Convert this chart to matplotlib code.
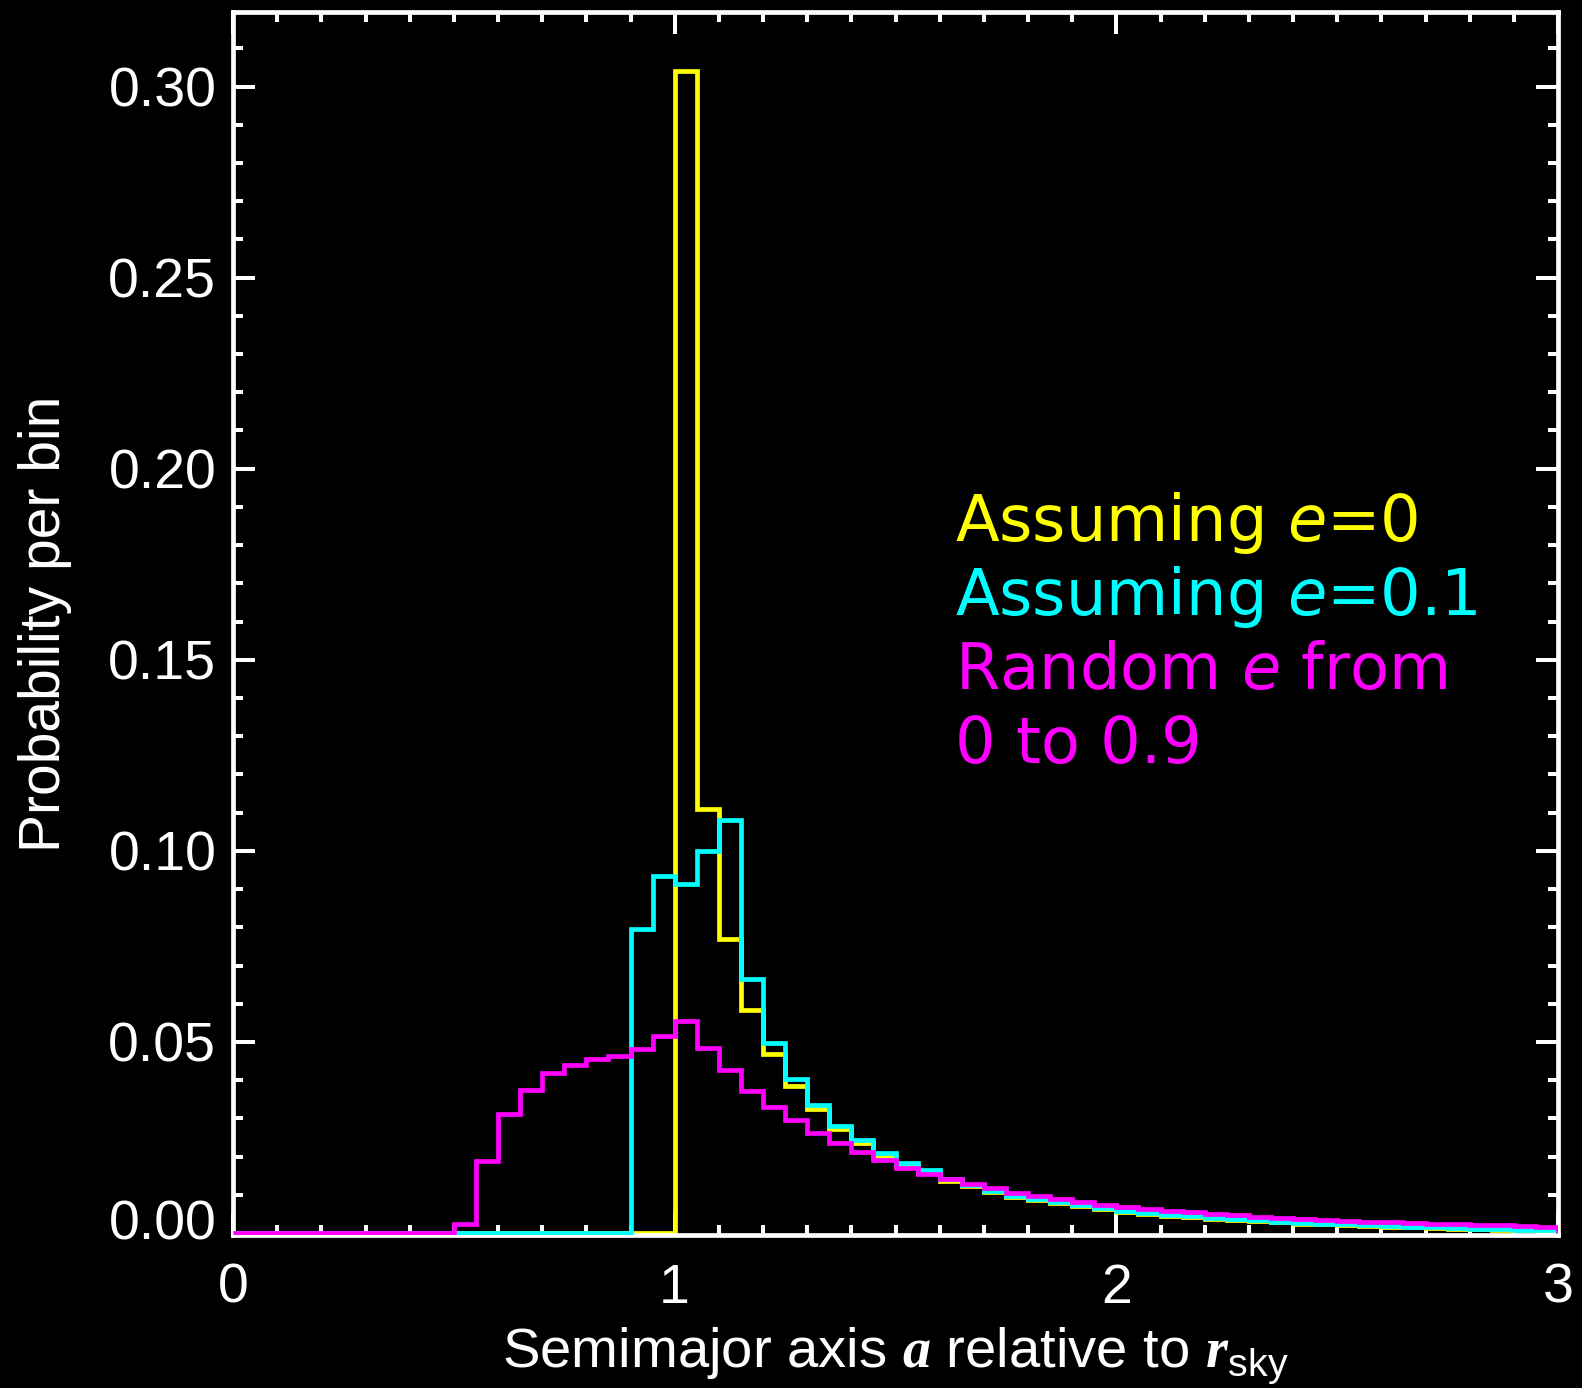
import numpy as np
import matplotlib
matplotlib.use("Agg")
import matplotlib.pyplot as plt
from matplotlib.ticker import MultipleLocator, FixedLocator, FixedFormatter
from matplotlib.transforms import ScaledTranslation

# ---- data: probability per bin, bins of width 0.05 from 0 to 3 ----
bin_edges = np.round(np.arange(0, 3.0001, 0.05), 4)

# e = 0 (yellow): zero below a = 1.0
yellow_vals = [0.0] * 20 + [
    0.304, 0.111, 0.077, 0.0584, 0.0469, 0.0385, 0.0324, 0.0272, 0.0235, 0.0200,
    0.0176, 0.0158, 0.0137, 0.0122, 0.0107, 0.0095, 0.0087, 0.0079, 0.0071, 0.0064,
    0.0056, 0.0051, 0.0046, 0.0042, 0.0038, 0.0034, 0.0031, 0.0028, 0.0025, 0.0023,
    0.0021, 0.0019, 0.0017, 0.0015, 0.0013, 0.0012, 0.0010, 0.0009, 0.0008, 0.0007,
]

# e = 0.1 (cyan): zero below a = 0.9
cyan_vals = [0.0] * 18 + [
    0.0796, 0.0935,
    0.0914, 0.1000, 0.1081, 0.0665, 0.0497, 0.0403, 0.0335, 0.0280, 0.0243, 0.0210,
    0.0183, 0.0165, 0.0141, 0.0125, 0.0109, 0.0097, 0.0089, 0.0081, 0.0073, 0.0065,
    0.0058, 0.0053, 0.0048, 0.0044, 0.0040, 0.0036, 0.0033, 0.0030, 0.0027, 0.0025,
    0.0023, 0.0021, 0.0019, 0.0017, 0.0015, 0.0014, 0.0012, 0.0011, 0.0009, 0.0008,
]

# random e from 0 to 0.9 (magenta): zero below a = 0.5
magenta_vals = [0.0] * 10 + [
    0.0025, 0.0188, 0.0311, 0.0374, 0.0419, 0.0440, 0.0455, 0.0463, 0.0482, 0.0516,
    0.0555, 0.0484, 0.0427, 0.0373, 0.0330, 0.0296, 0.0262, 0.0235, 0.0212, 0.0190,
    0.0170, 0.0155, 0.0141, 0.0128, 0.0117, 0.0105, 0.0097, 0.0089, 0.0081, 0.0074,
    0.0069, 0.0064, 0.0059, 0.0055, 0.0051, 0.0047, 0.0043, 0.0040, 0.0037, 0.0034,
    0.0032, 0.0030, 0.0028, 0.0026, 0.0025, 0.0023, 0.0022, 0.0020, 0.0019, 0.0017,
]

x_major_ticks = [0, 1, 2, 3]
x_tick_labels = ["0", "1", "2", "3"]
y_major_ticks = [0.00, 0.05, 0.10, 0.15, 0.20, 0.25, 0.30]
y_tick_labels = ["0.00", "0.05", "0.10", "0.15", "0.20", "0.25", "0.30"]

legend_lines = [
    ("Assuming $e$=0", "#ffff00"),
    ("Assuming $e$=0.1", "#00ffff"),
    ("Random $e$ from", "#ff00ff"),
    ("0 to 0.9", "#ff00ff"),
]

# ---- style ----
plt.rcParams["mathtext.fontset"] = "custom"
plt.rcParams["mathtext.it"] = "DejaVu Sans:italic"
plt.rcParams["mathtext.bf"] = "Liberation Serif:italic:bold"
plt.rcParams["mathtext.rm"] = "Liberation Sans"

W, H = 1582, 1388
fig = plt.figure(figsize=(W / 100, H / 100), dpi=100, facecolor="black")
ax = fig.add_axes([233 / W, 1 - 1235 / H, (1558 - 233) / W, (1235 - 12) / H])
ax.set_facecolor("black")

ax.stairs(yellow_vals, bin_edges, color="#ffff00", lw=3.4, zorder=2)
ax.stairs(cyan_vals, bin_edges, color="#00ffff", lw=3.4, zorder=3)
ax.stairs(magenta_vals, bin_edges, color="#ff00ff", lw=3.4, zorder=4)

ax.set_xlim(0, 3)
ax.set_ylim(-0.0005, 0.3195)

for s in ax.spines.values():
    s.set_color("white")
    s.set_linewidth(3.4)

ax.xaxis.set_major_locator(FixedLocator(x_major_ticks))
ax.xaxis.set_major_formatter(FixedFormatter(x_tick_labels))
ax.xaxis.set_minor_locator(MultipleLocator(0.1))
ax.yaxis.set_major_locator(FixedLocator(y_major_ticks))
ax.yaxis.set_major_formatter(FixedFormatter(y_tick_labels))
ax.yaxis.set_minor_locator(MultipleLocator(0.01))

ax.tick_params(which="both", direction="in", top=True, right=True, color="white",
               labelcolor="white")
ax.tick_params(which="major", length=16, width=2.9)
ax.tick_params(which="minor", length=7.5, width=2.9)
ax.tick_params(axis="y", which="major", pad=12)
ax.tick_params(axis="x", which="major", pad=20)
for lab in ax.get_xticklabels() + ax.get_yticklabels():
    lab.set_fontfamily("Liberation Sans")
    lab.set_fontsize(40)

# the bottom y label sits a little above its tick in the reference
first_lab = ax.yaxis.get_major_ticks()[0].label1
first_lab.set_transform(first_lab.get_transform() +
                        ScaledTranslation(0, 14 / 100, fig.dpi_scale_trans))

ax.set_xlabel(r"Semimajor axis $\mathbf{a}$ relative to $\mathbf{r}_{\mathrm{sky}}$",
              color="white", fontsize=40.5, fontfamily="Liberation Sans", labelpad=8)
ax.set_ylabel("Probability per bin", color="white", fontsize=41,
              fontfamily="Liberation Sans", labelpad=26)

baselines = [541, 615, 689, 763]
for (txt, col), yb in zip(legend_lines, baselines):
    fig.text(955 / W, 1 - yb / H, txt, color=col, fontsize=46,
             fontfamily="DejaVu Sans", ha="left", va="baseline")

fig.savefig("out.png", dpi=100, facecolor="black")
